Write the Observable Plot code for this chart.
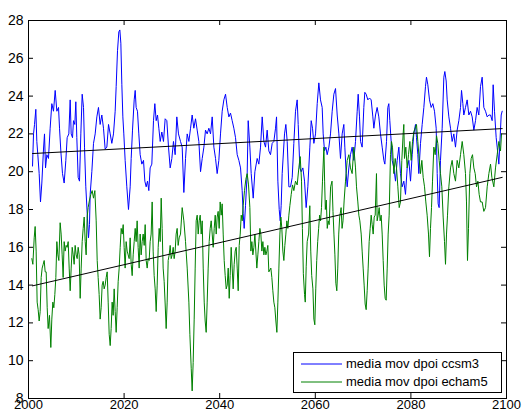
<!DOCTYPE html>
<html><head><meta charset="utf-8">
<script src="https://cdn.jsdelivr.net/npm/d3@7"></script>
<script src="https://cdn.jsdelivr.net/npm/@observablehq/plot@0.6"></script>
<style>
html,body{margin:0;padding:0;background:#fff;}
#wrap{position:relative;width:522px;height:412px;overflow:hidden;background:#fff;}
#legend{position:absolute;left:293px;top:352px;width:209px;height:41px;border:1px solid #000;background:#fff;box-sizing:border-box;font-family:"Liberation Sans",Arial,Helvetica,sans-serif;font-size:13px;color:#000;}
.row{position:absolute;left:0;height:16px;width:100%;}
.sw{position:absolute;left:7px;top:6px;}
.lab{position:absolute;left:52px;top:0;line-height:16px;white-space:nowrap;}
</style></head>
<body><div id="wrap"></div>
<script>
// ---- data ----
const seriesNames = ["media mov dpoi ccsm3", "media mov dpoi echam5"];
const seriesColors = ["#0000ff", "#008000"];
const xTicks = [2000, 2020, 2040, 2060, 2080, 2100];
const yTicks = [8, 10, 12, 14, 16, 18, 20, 22, 24, 26, 28];

const ccsm3 = [
[2000.84,20.3],[2001.05,22.0],[2001.26,22.5],[2001.53,23.3],[2001.74,21.6],[2001.95,20.9],[2002.23,19.9],[2002.51,18.4],[2002.79,19.4],[2003.14,21.2],[2003.35,22.0],[2003.56,20.2],[2003.84,20.9],[2004.18,20.7],[2004.53,22.3],[2004.88,23.6],[2005.23,23.2],[2005.58,24.3],[2005.93,23.2],[2006.28,23.4],[2006.49,22.3],[2006.76,21.1],[2007.11,19.9],[2007.46,19.4],[2007.81,20.6],[2008.09,21.8],[2008.44,22.0],[2008.72,23.8],[2008.93,22.0],[2009.21,21.8],[2009.41,22.7],[2009.69,22.5],[2009.90,23.7],[2010.11,21.8],[2010.39,19.7],[2010.67,19.5],[2010.95,22.0],[2011.23,24.1],[2011.51,23.4],[2011.72,21.3],[2011.99,19.2],[2012.34,17.5],[2012.55,16.5],[2012.76,17.2],[2012.90,18.8],[2013.25,20.0],[2013.60,21.5],[2013.95,22.0],[2014.30,22.9],[2014.64,23.4],[2014.99,22.5],[2015.34,23.0],[2015.69,22.3],[2016.04,21.2],[2016.39,21.3],[2016.74,22.5],[2017.09,22.0],[2017.43,21.5],[2017.78,22.0],[2018.13,23.2],[2018.34,24.5],[2018.62,26.4],[2018.90,27.4],[2019.11,27.5],[2019.32,26.8],[2019.53,24.6],[2019.74,22.9],[2019.94,22.0],[2020.22,20.6],[2020.57,19.2],[2020.92,18.0],[2021.27,19.2],[2021.48,20.7],[2021.76,22.2],[2022.11,23.8],[2022.32,24.3],[2022.52,23.4],[2022.80,23.2],[2023.08,22.0],[2023.36,20.9],[2023.71,20.4],[2024.06,20.6],[2024.34,19.5],[2024.62,19.2],[2024.90,19.5],[2025.17,19.0],[2025.45,20.2],[2025.80,20.4],[2026.15,22.7],[2026.43,23.6],[2026.71,22.7],[2026.99,23.0],[2027.27,22.3],[2027.55,21.6],[2027.89,22.1],[2028.24,21.6],[2028.59,22.8],[2028.94,22.7],[2029.29,21.3],[2029.64,20.2],[2029.99,20.7],[2030.33,21.6],[2030.68,20.9],[2031.03,22.9],[2031.38,22.0],
[2031.80,21.6],[2032.15,21.3],[2032.50,18.9],[2032.85,20.7],[2033.20,22.0],[2033.55,21.6],[2033.90,22.3],[2034.24,23.0],[2034.59,22.3],[2034.94,22.8],[2035.29,22.2],[2035.64,21.6],[2035.99,20.0],[2036.34,20.7],[2036.69,21.3],[2037.03,22.2],[2037.38,22.0],[2037.73,22.3],[2038.08,22.0],[2038.43,22.9],[2038.78,21.3],[2039.13,20.7],[2039.47,19.9],[2039.82,20.6],[2040.17,22.0],[2040.52,23.2],[2040.87,23.8],[2041.22,24.1],[2041.57,23.4],[2041.92,22.9],[2042.26,23.1],[2042.61,22.7],[2042.96,22.3],[2043.31,21.8],[2043.66,20.9],[2044.01,20.6],[2044.36,20.2],[2044.70,19.0],[2044.91,17.8],[2045.12,17.0],[2045.40,18.2],[2045.75,19.9],[2045.96,22.7],[2046.31,21.3],[2046.59,19.9],[2047.01,18.6],[2047.36,20.0],[2047.84,20.7],[2048.19,20.4],[2048.54,21.3],[2048.89,22.9],[2049.24,21.6],[2049.59,21.3],[2049.93,22.2],[2050.28,21.1],[2050.63,20.9],[2050.98,21.5],[2051.33,21.6],[2051.68,22.3],[2051.89,22.9],[2052.17,19.5],[2052.45,18.0],[2052.66,17.4],[2052.86,18.2],[2053.07,19.9],[2053.56,22.0],[2053.84,22.5],[2054.12,21.6],[2054.47,19.2],[2054.82,19.2],[2055.17,19.7],[2055.51,21.5],[2055.86,23.2],[2056.21,23.8],[2056.42,22.5],[2056.77,20.2],[2057.05,20.0],[2057.40,20.2],[2057.75,19.5],[2058.09,18.1],[2058.44,19.2],[2058.86,21.3],[2059.14,22.7],[2059.42,22.3],[2059.70,21.5],[2060.05,22.0],[2060.40,23.6],[2060.74,24.7],[2061.09,23.8],[2061.44,23.4],[2061.65,22.0],[2061.93,21.1],[2062.21,21.3],[2062.49,20.9],[2062.84,21.3],[2063.18,22.0],[2063.53,23.2],[2063.88,24.1],[2064.23,24.4],[2064.58,23.0],[2064.93,22.0],
[2065.27,20.7],[2065.62,22.0],[2065.97,22.5],[2066.18,21.3],[2066.46,19.9],[2066.67,19.2],[2067.02,20.2],[2067.36,20.9],[2067.71,21.3],[2068.06,20.6],[2068.41,21.6],[2068.76,23.2],[2068.97,24.1],[2069.25,22.9],[2069.46,21.6],[2069.80,21.3],[2070.15,23.4],[2070.36,24.2],[2070.64,24.1],[2070.99,23.8],[2071.34,23.9],[2071.69,23.8],[2072.04,22.9],[2072.25,22.3],[2072.60,23.0],[2072.94,23.4],[2073.29,22.9],[2073.64,22.0],[2073.99,21.3],[2074.34,20.6],[2074.55,20.4],[2074.90,21.6],[2075.17,23.4],[2075.38,23.6],[2075.59,22.7],[2075.87,21.6],[2076.08,20.6],[2076.43,20.2],[2076.78,19.5],[2077.13,20.6],[2077.48,21.3],[2077.82,19.9],[2078.17,19.2],[2078.52,19.5],[2078.87,18.8],[2079.22,20.2],[2079.57,20.6],[2079.92,19.5],[2080.27,20.9],[2080.61,22.0],[2080.96,22.5],[2081.17,21.8],[2081.45,20.9],[2081.66,19.9],[2082.01,21.5],[2082.36,22.5],[2082.71,23.4],[2083.05,24.5],[2083.26,25.0],[2083.54,24.6],[2083.89,23.8],[2084.24,23.4],[2084.59,23.6],[2084.94,23.2],[2085.29,22.3],[2085.50,19.9],[2085.70,18.3],[2085.91,18.1],[2086.19,20.6],[2086.54,22.3],[2086.89,25.0],[2087.10,25.3],[2087.38,24.8],[2087.59,23.8],[2087.94,22.9],[2088.29,22.3],[2088.63,21.6],[2088.98,22.0],[2089.33,21.3],[2089.68,22.2],[2090.03,22.7],[2090.38,23.4],[2090.59,24.3],[2090.87,23.6],[2091.07,23.0],[2091.42,23.4],[2091.77,23.8],[2092.12,23.0],[2092.47,23.2],[2092.82,22.9],[2093.17,22.2],[2093.52,22.7],[2093.86,23.4],[2094.21,23.0],[2094.56,24.5],[2094.91,25.0],[2095.26,23.4],[2095.61,23.2],[2095.96,22.9],[2096.31,23.0],[2096.66,23.0],[2097.00,22.7],[2097.21,24.6],[2097.49,23.2],[2097.84,21.8],[2098.05,21.3],[2098.40,20.4],[2098.61,21.5],[2098.89,23.0],[2099.10,23.2]
];

const echam5 = [
[2000.70,15.4],[2000.91,15.1],[2001.19,16.5],[2001.39,17.1],[2001.60,15.8],[2001.81,13.1],[2002.02,12.7],[2002.23,12.1],[2002.44,12.6],[2002.65,14.4],[2002.86,14.9],[2003.07,15.1],[2003.28,15.3],[2003.49,14.7],[2003.70,14.7],[2003.91,12.8],[2004.11,11.7],[2004.39,12.4],[2004.67,10.7],[2004.88,12.2],[2005.09,13.1],[2005.30,12.8],[2005.51,13.5],[2005.72,14.4],[2005.93,16.3],[2006.14,15.6],[2006.35,15.3],[2006.62,17.3],[2006.83,16.7],[2007.04,15.6],[2007.25,14.4],[2007.46,16.3],[2007.67,15.8],[2007.88,16.1],[2008.09,16.0],[2008.30,16.3],[2008.51,14.9],[2008.72,13.7],[2008.93,14.9],[2009.14,16.0],[2009.35,15.6],[2009.55,15.1],[2009.76,16.1],[2009.97,15.6],[2010.18,15.4],[2010.39,16.0],[2010.60,15.6],[2010.81,13.3],[2011.02,14.9],[2011.23,16.3],[2011.44,17.0],[2011.65,17.6],[2011.86,16.3],[2012.06,15.6],[2012.27,17.6],[2012.48,18.1],[2012.76,18.5],[2013.04,18.8],[2013.32,19.0],[2013.60,18.6],[2013.88,19.0],[2014.16,17.4],[2014.37,15.3],[2014.57,14.4],[2014.78,13.5],[2014.99,12.2],[2015.20,12.8],[2015.41,14.0],[2015.62,14.2],[2015.83,13.8],[2016.04,14.0],[2016.25,14.4],[2016.46,14.7],[2016.67,13.1],[2016.88,11.4],[2017.09,10.8],[2017.29,11.7],[2017.50,13.1],[2017.71,12.4],[2017.92,13.8],[2018.13,12.6],[2018.34,11.5],[2018.55,12.8],[2018.76,14.2],[2018.97,14.9],[2019.18,16.0],[2019.39,17.0],[2019.60,16.7],[2019.81,17.2],[2020.01,16.0],[2020.22,14.9],[2020.43,16.3],[2020.64,15.8],[2020.85,15.6],[2021.06,15.4],[2021.27,16.5],[2021.48,15.1],[2021.69,14.5],[2021.90,15.6],[2022.11,16.3],[2022.32,17.0],[2022.52,16.3],[2022.73,17.4],[2022.94,16.0],[2023.15,14.9],[2023.36,16.7],[2023.57,15.6],[2023.78,16.3],[2023.99,16.7],[2024.20,16.1],[2024.41,17.2],[2024.62,15.3],[2024.83,14.9],[2025.03,15.4],[2025.24,15.3],[2025.45,16.3],[2025.66,16.7],[2025.87,18.4],[2026.08,15.8],[2026.29,14.5],[2026.50,13.8],[2026.71,12.6],[2026.92,14.0],[2027.13,16.0],[2027.34,17.0],[2027.55,16.3],[2027.76,18.6],[2027.96,17.0],[2028.17,14.9],[2028.38,14.2],[2028.59,13.0],[2028.80,11.7],[2029.01,13.1],[2029.22,15.3],[2029.43,15.6],[2029.64,16.1],[2029.85,15.4],[2030.06,15.6],[2030.27,16.0],[2030.47,15.4],[2030.68,15.8],[2030.89,16.7],[2031.10,17.0],[2031.31,16.1],[2031.52,16.5],
[2031.80,16.7],[2032.15,18.1],[2032.50,17.4],[2032.85,16.3],[2033.20,14.9],[2033.55,13.1],[2033.76,11.4],[2034.04,9.6],[2034.24,8.4],[2034.45,9.9],[2034.66,12.2],[2034.87,14.9],[2035.08,17.4],[2035.29,17.7],[2035.50,16.7],[2035.71,17.4],[2035.92,17.7],[2036.13,16.7],[2036.34,17.4],[2036.55,14.9],[2036.76,13.1],[2036.96,12.1],[2037.17,11.5],[2037.38,13.1],[2037.59,14.9],[2037.80,16.3],[2038.01,17.0],[2038.22,17.4],[2038.43,16.7],[2038.64,16.0],[2038.85,17.0],[2039.06,17.7],[2039.27,16.7],[2039.47,17.6],[2039.68,17.9],[2039.89,17.0],[2040.10,18.4],[2040.31,17.7],[2040.52,18.3],[2040.73,16.7],[2040.94,15.3],[2041.15,14.5],[2041.36,13.8],[2041.57,14.0],[2041.78,14.9],[2041.99,13.3],[2042.19,14.5],[2042.40,16.0],[2042.61,14.9],[2042.82,13.8],[2043.03,15.1],[2043.24,15.8],[2043.45,16.0],[2043.66,14.9],[2043.87,13.7],[2044.08,16.1],[2044.29,16.7],[2044.50,17.7],[2044.71,17.4],[2044.91,18.2],[2045.19,19.0],[2045.47,19.6],[2045.75,19.9],[2046.03,19.3],[2046.31,18.1],[2046.52,15.8],[2046.73,16.3],[2046.94,15.6],[2047.15,16.0],[2047.36,16.7],[2047.56,15.8],[2047.77,14.9],[2047.98,15.6],[2048.19,16.3],[2048.40,17.0],[2048.61,16.7],[2048.82,15.8],[2049.03,16.3],[2049.24,15.6],[2049.45,16.0],[2049.66,15.6],[2049.87,15.8],[2050.07,16.1],
[2050.28,14.7],[2050.70,14.9],[2050.91,14.4],[2051.12,13.7],[2051.33,13.1],[2051.54,12.8],[2051.75,12.1],[2051.96,11.5],[2052.17,13.1],[2052.38,14.9],[2052.59,16.7],[2052.80,17.6],[2053.00,17.0],[2053.21,15.8],[2053.42,15.3],[2053.63,16.1],[2053.84,16.7],[2054.05,17.4],[2054.26,17.0],[2054.47,17.7],[2054.68,18.2],[2054.96,18.8],[2055.24,19.3],[2055.51,19.0],[2055.86,19.5],[2056.21,19.3],[2056.56,20.2],[2056.84,20.8],[2057.12,19.5],[2057.30,17.0],[2057.50,14.6],[2057.75,13.5],[2057.90,13.1],[2058.10,15.0],[2058.30,16.3],[2058.60,16.7],[2058.85,18.2],[2059.05,15.8],[2059.25,14.5],[2059.50,13.8],[2059.70,12.2],[2059.90,11.9],[2060.10,13.8],[2060.30,15.3],[2060.50,16.3],[2060.70,17.0],[2060.90,17.7],[2061.10,17.4],[2061.30,18.1],[2061.50,19.5],[2061.80,21.3],[2061.95,19.5],[2062.10,18.0],[2062.30,18.5],[2062.50,17.0],[2062.70,17.4],[2062.90,17.2],[2063.20,19.2],[2063.50,19.5],[2063.70,17.9],[2063.90,16.7],[2064.10,15.6],[2064.30,14.1],[2064.50,13.7],[2064.70,14.9],[2064.90,16.7],[2065.10,17.6],[2065.40,18.1],[2065.60,17.0],[2065.80,17.4],
[2066.04,18.5],[2066.32,19.5],[2066.67,20.6],[2067.02,20.9],[2067.36,20.2],[2067.71,19.9],[2068.06,21.3],[2068.41,20.2],[2068.62,19.2],[2068.90,18.4],[2069.11,17.7],[2069.32,17.4],[2069.60,16.7],[2069.80,15.8],[2070.01,14.9],[2070.22,14.0],[2070.43,13.0],[2070.64,12.7],[2070.85,13.7],[2071.06,14.9],[2071.27,16.3],[2071.48,17.0],[2071.69,17.7],[2071.90,17.2],[2072.11,16.7],[2072.32,17.6],[2072.53,17.7],[2072.80,19.9],[2072.94,17.4],[2073.15,17.7],[2073.36,18.1],[2073.57,17.4],[2073.78,17.7],[2073.99,16.7],[2074.20,15.3],[2074.41,14.0],[2074.62,13.3],[2074.83,13.2],[2075.04,14.9],[2075.24,16.7],[2075.45,17.7],[2075.73,20.9],[2075.94,21.6],[2076.15,21.3],[2076.43,19.9],[2076.71,20.7],[2076.99,20.2],[2077.27,19.2],[2077.55,18.1],[2077.82,18.4],[2078.10,20.6],[2078.38,22.0],[2078.52,22.5],[2078.66,20.7],[2078.94,21.3],[2079.22,20.2],[2079.50,20.9],[2079.78,21.6],[2080.06,20.6],[2080.34,21.6],[2080.61,22.1],[2080.89,22.3],[2081.17,22.5],[2081.45,21.6],[2081.73,20.7],[2082.01,19.9],[2082.29,20.6],[2082.57,19.7],[2082.85,19.2],[2083.12,18.4],[2083.40,17.7],[2083.68,16.7],[2083.89,15.5],[2084.10,17.0],[2084.31,18.1],[2084.52,19.5],[2084.80,21.3],[2085.08,20.9],[2085.36,21.9],[2085.63,21.5],[2085.91,20.6],[2086.19,19.9],[2086.47,19.2],[2086.75,17.6],[2087.03,16.3],[2087.24,15.1],[2087.45,16.7],[2087.66,17.7],[2087.94,19.2],[2088.29,20.2],[2088.63,20.6],[2088.98,19.9],[2089.33,19.5],[2089.68,20.6],[2090.03,20.2],[2090.38,20.9],[2090.73,21.6],[2091.07,20.9],[2091.42,19.9],[2091.63,18.4],[2091.84,15.3],[2092.05,17.0],[2092.33,19.9],[2092.61,20.7],[2092.89,20.9],[2093.17,20.2],[2093.45,19.9],[2093.73,19.2],[2094.01,19.5],[2094.28,18.8],[2094.56,18.4],[2094.91,18.4],[2095.26,17.9],[2095.61,18.1],[2095.96,19.2],[2096.31,19.9],[2096.66,20.4],[2096.94,19.7],[2097.35,19.2],[2097.70,20.2],[2098.05,20.9],[2098.40,21.6],[2098.75,21.1],[2098.96,22.0]
];

// linear trend lines (end points)
const trendCcsm3 = [[2000.84, 20.96], [2099.10, 22.28]];
const trendEcham5 = [[2000.84, 13.96], [2099.10, 19.70]];

// ---- layout ----
const W = 522, H = 412;
const mL = 28, mR = 16, mT = 20, mB = 14;
const innerW = W - mL - mR, innerH = H - mT - mB;
const tickLen = 5;
const font = '"Liberation Sans", Arial, Helvetica, sans-serif';

const X = d => d[0], Y = d => d[1];

const chart = Plot.plot({
  width: W, height: H,
  marginLeft: mL, marginRight: mR, marginTop: mT, marginBottom: mB,
  x: {type: "linear", domain: [2000, 2100]},
  y: {type: "linear", domain: [8, 28]},
  style: {fontFamily: font, fontSize: "14px", background: "#fff", color: "#000", overflow: "visible"},
  marks: [
    Plot.line(ccsm3, {x: X, y: Y, stroke: seriesColors[0], strokeWidth: 1}),
    Plot.line(echam5, {x: X, y: Y, stroke: seriesColors[1], strokeWidth: 1}),
    Plot.line(trendCcsm3, {x: X, y: Y, stroke: "#000", strokeWidth: 1}),
    Plot.line(trendEcham5, {x: X, y: Y, stroke: "#000", strokeWidth: 1}),
    // inward ticks on all four sides
    Plot.tickX(xTicks, {x: d => d, insetTop: innerH - tickLen, stroke: "#000"}),
    Plot.tickX(xTicks, {x: d => d, insetBottom: innerH - tickLen, stroke: "#000"}),
    Plot.tickY(yTicks, {y: d => d, insetRight: innerW - tickLen, stroke: "#000"}),
    Plot.tickY(yTicks, {y: d => d, insetLeft: innerW - tickLen, stroke: "#000"}),
    Plot.axisX(xTicks, {tickSize: 0, tickPadding: 1, tickFormat: d => String(d), label: null, fontSize: 13}),
    Plot.axisY(yTicks, {tickSize: 0, tickPadding: 5, tickFormat: d => String(d), label: null, fontSize: 14}),
    Plot.frame({stroke: "#000", strokeWidth: 1})
  ]
});

const wrap = document.getElementById("wrap");
wrap.appendChild(chart);

// legend (inside the axes box, bottom right)
const legend = document.createElement("div");
legend.id = "legend";
seriesNames.forEach((name, i) => {
  const row = document.createElement("div");
  row.className = "row";
  row.style.top = (3 + i * 18) + "px";
  const sw = d3.create("svg").attr("class", "sw").attr("width", 42).attr("height", 4);
  sw.append("line").attr("x1", 0).attr("x2", 41).attr("y1", 2).attr("y2", 2)
    .attr("stroke", seriesColors[i]).attr("stroke-width", 1);
  const lab = document.createElement("div");
  lab.className = "lab";
  lab.textContent = name;
  row.appendChild(sw.node()); row.appendChild(lab);
  legend.appendChild(row);
});
wrap.appendChild(legend);
</script>
</body></html>
